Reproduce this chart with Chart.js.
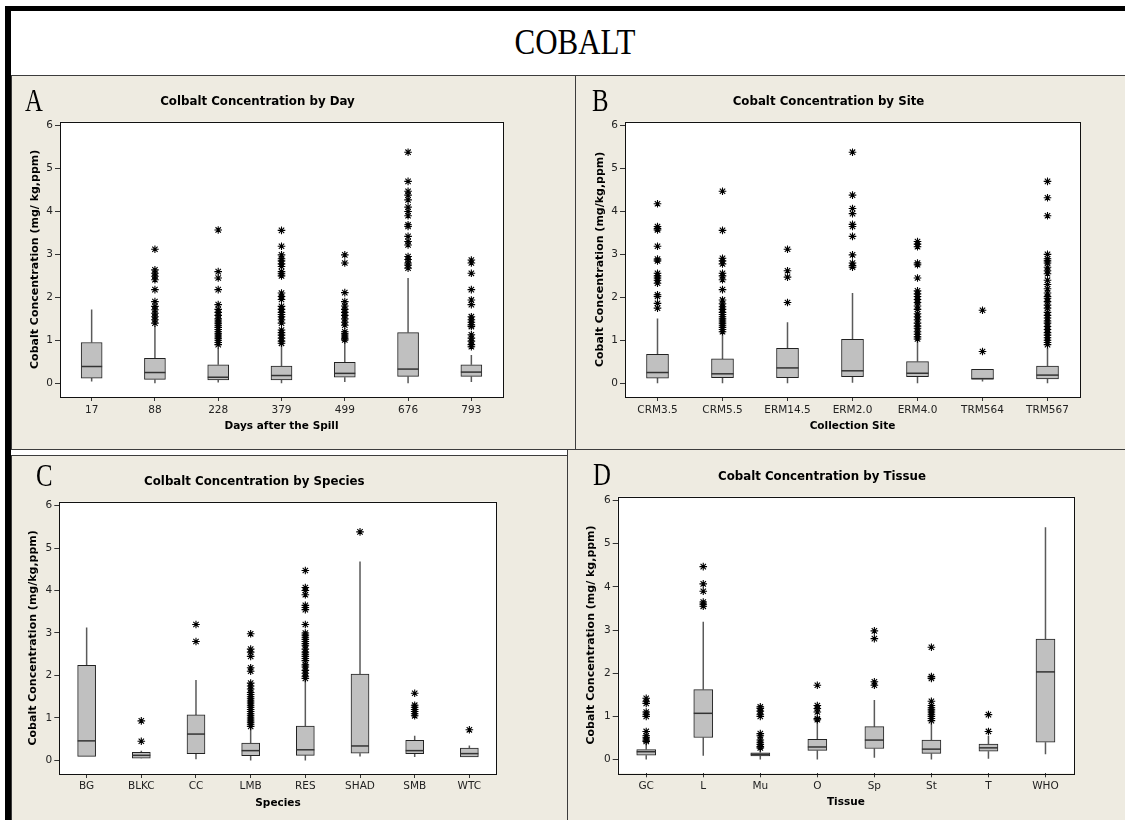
<!DOCTYPE html>
<html>
<head>
<meta charset="utf-8">
<script src="https://cdn.jsdelivr.net/npm/chart.js@4.4.1/dist/chart.umd.min.js"></script>
<style>
body{margin:0;width:1125px;height:820px;overflow:hidden;position:relative;background:#fff}
.band{position:absolute;background:#000}
.panel{position:absolute;background:#eeebe1;border:1px solid #3c3c3c;box-sizing:border-box}
canvas{position:absolute}
#mainTitle{position:absolute;left:0;top:21px;width:1150px;text-align:center;font:36px 'Liberation Serif',serif;transform:scaleX(0.86);color:#000}
.letter{position:absolute;font:31px/31px 'Liberation Serif',serif;transform:scaleX(0.8);transform-origin:left top;color:#000}
</style>
</head>
<body>

<div class="band" style="left:5px;top:6px;width:1120px;height:5px"></div>
<div class="band" style="left:5px;top:6px;width:6px;height:814px"></div>
<div id="mainTitle">COBALT</div>

<div class="panel" style="left:11px;top:75px;width:565px;height:375px"></div>
<div class="panel" style="left:575px;top:75px;width:552px;height:375px"></div>
<div class="panel" style="left:11px;top:455px;width:557px;height:370px"></div>
<div class="panel" style="left:567px;top:449px;width:560px;height:376px"></div>

<canvas id="chartA"></canvas>
<canvas id="chartB"></canvas>
<canvas id="chartC"></canvas>
<canvas id="chartD"></canvas>

<div class="letter" style="left:25px;top:85px">A</div>
<div class="letter" style="left:592px;top:85px">B</div>
<div class="letter" style="left:36px;top:460px">C</div>
<div class="letter" style="left:593px;top:459px">D</div>

<script>
/* ====================================
   DATA
==================================== */

// A - by day
const days=['17','88','228','379','499','676','793']
const dayLo=[0.04,0.00,0.02,0.00,0.03,0.00,0.03]
const dayQ1=[0.12,0.09,0.08,0.08,0.14,0.16,0.16]
const dayMed=[0.39,0.25,0.14,0.18,0.23,0.33,0.26]
const dayQ3=[0.95,0.58,0.43,0.40,0.49,1.18,0.43]
const dayHi=[1.72,1.34,0.82,0.89,0.99,2.45,0.66]
const dayOut=[
[],
[3.12,2.64,2.56,2.49,2.41,2.18,1.90,1.79,1.71,1.63,1.55,1.48,1.40],
[3.57,2.60,2.45,2.18,1.83,1.72,1.65,1.58,1.50,1.45,1.40,1.35,1.30,1.25,1.20,1.15,1.10,1.05,1.00,0.95,0.90],
[3.56,3.19,2.99,2.90,2.85,2.78,2.72,2.60,2.55,2.50,2.10,2.02,1.95,1.79,1.72,1.65,1.60,1.55,1.48,1.40,1.24,1.18,1.12,1.05,0.98,0.93],
[2.99,2.80,2.11,1.90,1.80,1.72,1.65,1.58,1.50,1.42,1.35,1.20,1.15,1.10,1.05,1.01],
[5.38,4.70,4.47,4.38,4.27,4.10,4.00,3.90,3.69,3.65,3.42,3.30,3.22,2.95,2.88,2.80,2.75,2.68],
[2.87,2.80,2.56,2.18,1.94,1.83,1.55,1.48,1.42,1.36,1.32,1.13,1.05,0.98,0.90,0.85]
]

// B - by site
const sites=['CRM3.5','CRM5.5','ERM14.5','ERM2.0','ERM4.0','TRM564','TRM567']
const siteLo=[0.00,0.00,0.00,0.01,0.00,0.04,0.00]
const siteQ1=[0.12,0.13,0.13,0.155,0.155,0.093,0.10]
const siteMed=[0.25,0.22,0.357,0.29,0.233,0.107,0.19]
const siteQ3=[0.675,0.566,0.815,1.025,0.505,0.326,0.40]
const siteHi=[1.51,1.15,1.42,2.10,1.01,0.33,0.82]
const siteOut=[
[4.18,3.65,3.60,3.57,3.19,2.89,2.85,2.56,2.50,2.45,2.40,2.33,2.06,2.02,1.86,1.75],
[4.47,3.56,2.91,2.85,2.78,2.56,2.50,2.41,2.18,1.94,1.85,1.78,1.72,1.65,1.60,1.55,1.50,1.45,1.40,1.35,1.30,1.25,1.20],
[3.12,2.62,2.47,1.88],
[5.38,4.38,4.07,3.95,3.70,3.65,3.42,2.99,2.80,2.74,2.70],
[3.30,3.24,3.18,2.80,2.76,2.45,2.15,2.08,2.02,1.95,1.88,1.80,1.72,1.62,1.55,1.48,1.40,1.33,1.28,1.20,1.14,1.08,1.03],
[1.70,0.74],
[4.70,4.32,3.90,3.00,2.90,2.85,2.80,2.70,2.62,2.55,2.40,2.30,2.20,2.10,2.02,1.98,1.90,1.82,1.75,1.65,1.58,1.52,1.45,1.40,1.32,1.25,1.18,1.12,1.06,1.00,0.95,0.90]
]

// C - by species
const species=['BG','BLKC','CC','LMB','RES','SHAD','SMB','WTC']
const spLo=[0.09,0.05,0.03,0.00,0.00,0.09,0.08,0.08]
const spQ1=[0.094,0.055,0.16,0.11,0.12,0.17,0.16,0.08]
const spMed=[0.46,0.12,0.62,0.23,0.25,0.34,0.23,0.16]
const spQ3=[2.24,0.19,1.07,0.41,0.81,2.03,0.47,0.29]
const spHi=[3.13,0.23,1.89,0.76,1.89,4.68,0.58,0.35]
const spOut=[
[],
[0.93,0.45],
[3.20,2.80],
[2.98,2.62,2.55,2.45,2.18,2.10,1.82,1.75,1.68,1.60,1.55,1.50,1.45,1.40,1.35,1.30,1.25,1.20,1.15,1.10,1.05,1.00,0.95,0.90,0.85,0.80],
[4.47,4.07,4.00,3.90,3.65,3.60,3.55,3.20,3.00,2.95,2.90,2.85,2.80,2.75,2.70,2.62,2.55,2.50,2.45,2.40,2.35,2.25,2.20,2.12,2.05,1.98,1.93],
[5.38],
[1.58,1.30,1.25,1.20,1.15,1.10,1.05],
[0.72]
]

// D - by tissue
const tissues=['GC','L','Mu','O','Sp','St','T','WHO']
const tiLo=[0.00,0.085,0.00,0.00,0.04,0.00,0.02,0.12]
const tiQ1=[0.10,0.51,0.085,0.21,0.255,0.14,0.19,0.40]
const tiMed=[0.18,1.07,0.12,0.29,0.45,0.24,0.27,2.03]
const tiQ3=[0.23,1.62,0.155,0.47,0.76,0.45,0.36,2.79]
const tiHi=[0.36,3.19,0.22,0.87,1.38,0.84,0.55,5.38]
const tiOut=[
[1.42,1.35,1.30,1.10,1.05,1.00,0.65,0.55,0.50,0.45,0.42],
[4.47,4.07,3.90,3.65,3.60,3.55],
[1.22,1.18,1.12,1.05,1.00,0.60,0.55,0.45,0.40,0.35,0.30,0.27],
[1.72,1.25,1.18,1.10,0.95,0.92],
[2.98,2.80,1.80,1.72],
[2.60,1.92,1.88,1.35,1.25,1.20,1.15,1.10,1.05,1.00,0.95,0.90],
[1.04,0.65],
[]
]

// y axis
const yMin=-0.32
const yMax=6.09
const yStep=1


/* ====================================
   FONTS AND COLOURS
==================================== */

const FONT="'DejaVu Sans', sans-serif"
const TITLE_SIZE=11.8
const YT_SIZE=11
const XT_SIZE=10.5
const TICK_SIZE=10.5
const TICK_LEN_X=4
const TICK_LEN_Y=5

Chart.defaults.font.family=FONT
Chart.defaults.color='#222'


/* ====================================
   BOX PLOT PLUGIN
   whiskers, medians, white plot area, frame
==================================== */

const boxPlot={
id:'boxPlot',

beforeDraw(chart){
const a=chart.chartArea
const c=chart.ctx
c.save()
c.fillStyle='#fff'
c.fillRect(a.left,a.top,a.right-a.left,a.bottom-a.top)
c.restore()
},

beforeDatasetsDraw(chart,args,opts){
const c=chart.ctx
const y=chart.scales.y
const bars=chart.getDatasetMeta(0).data
c.save()
c.strokeStyle='#5a5a5a'
c.lineWidth=1.5
bars.forEach((bar,i)=>{
c.beginPath()
c.moveTo(bar.x,y.getPixelForValue(opts.lo[i]))
c.lineTo(bar.x,y.getPixelForValue(opts.q1[i]))
c.moveTo(bar.x,y.getPixelForValue(opts.q3[i]))
c.lineTo(bar.x,y.getPixelForValue(opts.hi[i]))
c.stroke()
})
c.restore()
},

afterDatasetsDraw(chart,args,opts){
const c=chart.ctx
const y=chart.scales.y
const bars=chart.getDatasetMeta(0).data
c.save()
c.strokeStyle='#333'
c.lineWidth=1.5
bars.forEach((bar,i)=>{
const py=y.getPixelForValue(opts.med[i])
c.beginPath()
c.moveTo(bar.x-bar.width/2,py)
c.lineTo(bar.x+bar.width/2,py)
c.stroke()
})
// plot frame
const a=chart.chartArea
c.strokeStyle='#111'
c.lineWidth=1
c.strokeRect(Math.round(a.left)+0.5,Math.round(a.top)+0.5,Math.round(a.right-a.left),Math.round(a.bottom-a.top))
c.restore()
}

}


/* ====================================
   BUILD ONE PANEL
==================================== */

function boxPanel(id,box,labels,lo,q1,med,q3,hi,out,text,barW){

const canvas=document.getElementById(id)
canvas.width=Math.round(box.w)
canvas.height=Math.round(box.h)
canvas.style.left=box.x+'px'
canvas.style.top=box.y+'px'

const lhT=TITLE_SIZE*1.2
const lhX=XT_SIZE*1.2
const lhY=YT_SIZE*1.2
const lhK=TICK_SIZE*1.2

const yAxisW=box.left-box.x
const xAxisH=box.y+box.h-box.bottom
const padRight=box.x+box.w-box.right

// outliers as points on the category axis
const points=[]
labels.forEach((c,i)=>out[i].forEach(v=>points.push({x:c,y:v})))

new Chart(canvas,{

type:'bar',

data:{
labels:labels,
datasets:[
{
label:'box',
data:q1.map((v,i)=>[v,q3[i]]),
backgroundColor:'#c0c0c0',
borderColor:'#222',
borderWidth:1,
borderSkipped:false,
barThickness:barW
},
{
type:'scatter',
label:'outliers',
data:points,
pointStyle:'star',
pointRadius:3.8,
borderColor:'#000',
borderWidth:1.1,
backgroundColor:'transparent'
}
]
},

options:{
responsive:false,
maintainAspectRatio:false,
animation:false,
events:[],
layout:{padding:{left:0,top:0,bottom:0,right:padRight}},
plugins:{
legend:{display:false},
tooltip:{enabled:false},
title:{
display:true,
text:text.title,
color:'#000',
font:{size:TITLE_SIZE,weight:'bold'},
padding:{top:box.titleY-box.y-lhT/2,bottom:box.top-box.titleY-lhT/2}
},
boxPlot:{lo:lo,q1:q1,med:med,q3:q3,hi:hi}
},
scales:{
x:{
type:'category',
offset:true,
grid:{display:true,drawOnChartArea:false,offset:false,tickLength:TICK_LEN_X,color:'#333'},
border:{display:false},
ticks:{font:{size:TICK_SIZE},color:'#222',padding:box.tickY-box.bottom-TICK_LEN_X-lhK/2,maxRotation:0,autoSkip:false},
title:{display:true,text:text.x,color:'#000',font:{size:XT_SIZE,weight:'bold'},padding:{top:0,bottom:box.y+box.h-box.xTitleY-lhX/2}},
afterFit(s){s.height=xAxisH}
},
y:{
type:'linear',
min:yMin,
max:yMax,
grid:{display:true,drawOnChartArea:false,tickLength:TICK_LEN_Y,color:'#333'},
border:{display:false},
ticks:{stepSize:yStep,includeBounds:false,font:{size:TICK_SIZE},color:'#222',padding:2},
title:{display:true,text:text.y,color:'#000',font:{size:YT_SIZE,weight:'bold'},padding:{top:box.yTitleX-box.x-lhY/2,bottom:0}},
afterFit(s){s.width=yAxisW}
}
}
},

plugins:[boxPlot]

})

}


/* ====================================
   PANEL PLACEMENT (page pixels)
==================================== */

const boxA={x:12,y:76,w:510,h:373,left:60,right:503,top:121.7,bottom:397,titleY:101.7,tickY:410,xTitleY:426.7,yTitleX:35}
const boxB={x:577,y:76,w:522,h:373,left:625,right:1080,top:121.7,bottom:397,titleY:101.7,tickY:410,xTitleY:426.7,yTitleX:600}
const boxC={x:12,y:457,w:505,h:363,left:59.3,right:496.7,top:501.7,bottom:774,titleY:481.7,tickY:786.7,xTitleY:803,yTitleX:33.3}
const boxD={x:570,y:451,w:522,h:369,left:617.7,right:1074,top:496.7,bottom:773.3,titleY:476.7,tickY:786.7,xTitleY:802.7,yTitleX:590.7}

boxPanel('chartA',boxA,days,dayLo,dayQ1,dayMed,dayQ3,dayHi,dayOut,
{title:'Colbalt Concentration by Day',x:'Days after the Spill',y:'Cobalt Concentration (mg/ kg,ppm)'},21)

boxPanel('chartB',boxB,sites,siteLo,siteQ1,siteMed,siteQ3,siteHi,siteOut,
{title:'Cobalt Concentration by Site',x:'Collection Site',y:'Cobalt Concentration (mg/kg,ppm)'},22)

boxPanel('chartC',boxC,species,spLo,spQ1,spMed,spQ3,spHi,spOut,
{title:'Colbalt Concentration by Species',x:'Species',y:'Cobalt Concentration (mg/kg,ppm)'},18)

boxPanel('chartD',boxD,tissues,tiLo,tiQ1,tiMed,tiQ3,tiHi,tiOut,
{title:'Cobalt Concentration by Tissue',x:'Tissue',y:'Cobalt Concentration (mg/ kg,ppm)'},19)
</script>
</body>
</html>
